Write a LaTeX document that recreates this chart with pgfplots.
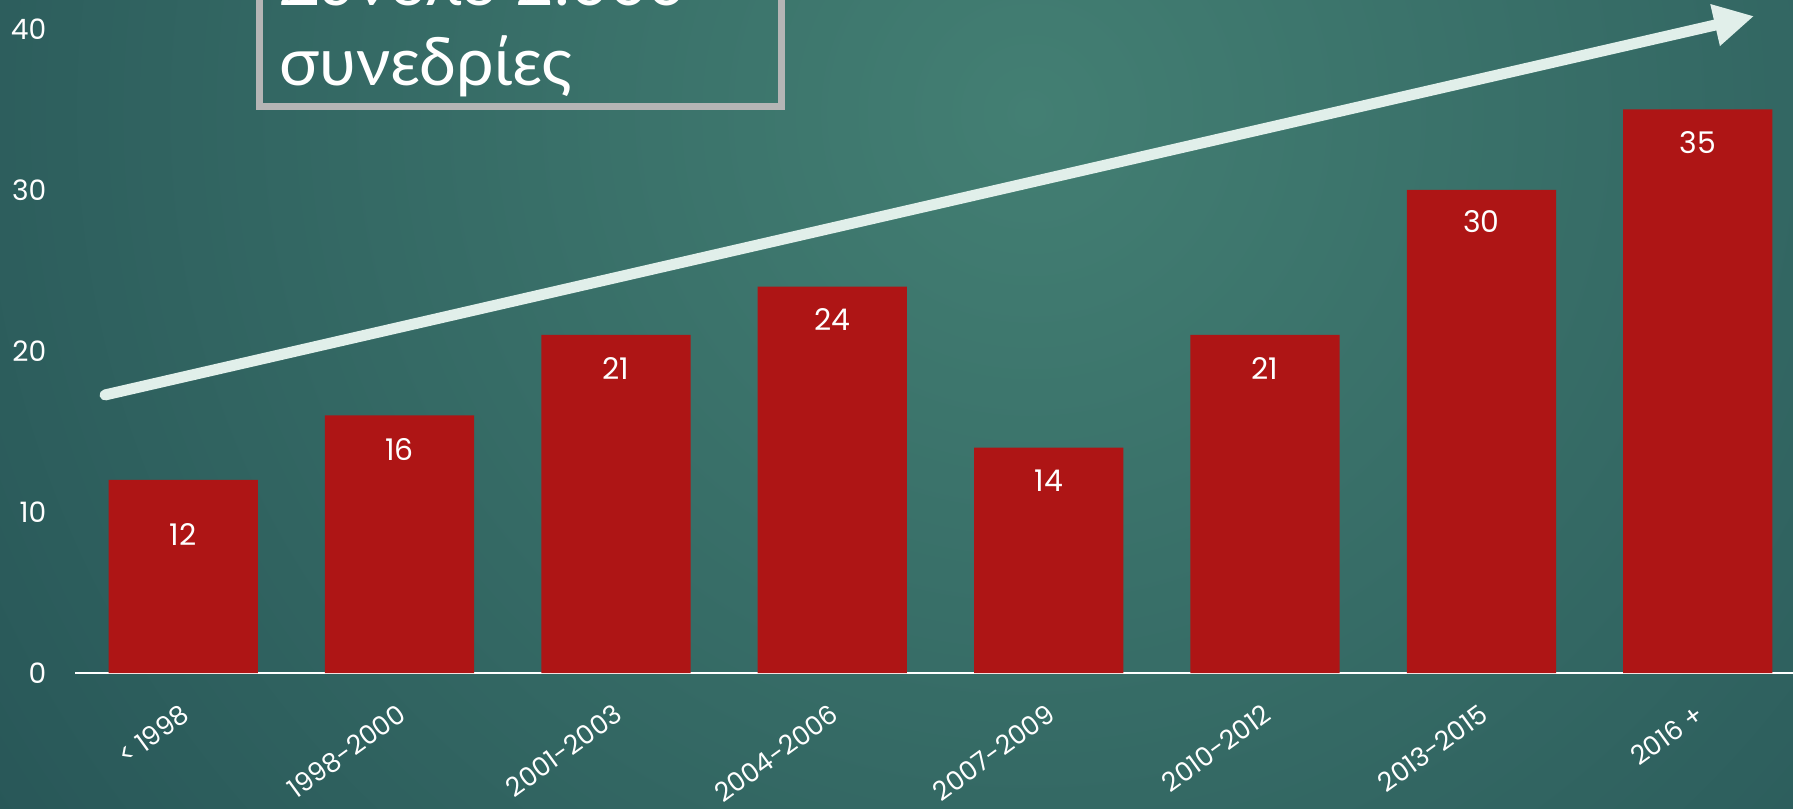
\documentclass[border=0pt]{standalone}
\usepackage{pgfplots}
\pgfplotsset{compat=1.18}
\usepackage{pgfplotstable}
\usepackage{fontspec}
\setmainfont{Poppins}
\newfontfamily\greekfont{Lato}
\usetikzlibrary{arrows.meta}

\definecolor{bgdark}{HTML}{183F48}
\definecolor{bglight}{HTML}{437F73}
\definecolor{barred}{HTML}{AE1515}
\definecolor{arrowcol}{HTML}{E1EFEA}
\definecolor{boxgray}{HTML}{B5B5B5}

% sessions per period, label offset (cm) below bar top
\pgfplotstableread{
x y off
0 12 -1.10
1 16 -0.68
2 21 -0.68
3 24 -0.66
4 14 -0.66
5 21 -0.68
6 30 -0.63
7 35 -0.66
}\sessions

\begin{document}
\begin{tikzpicture}
\useasboundingbox (-1.5,-2.7) rectangle (34.36,13.46);
\clip (-1.5,-2.7) rectangle (34.36,13.46);
\fill[bgdark] (-1.5,-2.7) rectangle (34.36,13.46);
\shade[inner color=bglight, outer color=bgdark] (19.1,11.2) circle (40cm);

\begin{axis}[
  at={(0,0)}, anchor=south west,
  scale only axis, width=34.36cm, height=13.46cm,
  xmin=-0.5, xmax=7.44, ymin=0, ymax=41.8,
  ybar, bar width=0.69,
  axis x line*=bottom, axis y line*=left,
  x axis line style={white, line width=0.05cm},
  y axis line style={draw=none},
  major tick length=0,
  ytick={0,10,20,30,40},
  xtick={0,...,7},
  xticklabels={{< 1998},{1998-2000},{2001-2003},{2004-2006},{2007-2009},{2010-2012},{2013-2015},{2016 +}},
  ticklabel style={white},
  xticklabel style={rotate=36, anchor=north east, inner sep=0pt, yshift=-0.44cm, xshift=-0.4cm,
    font=\fontsize{15}{17}\selectfont},
  yticklabel style={anchor=east, xshift=-0.45cm, font=\fontsize{16}{18}\selectfont},
  /pgf/number format/assume math mode=true,
  nodes near coords,
  visualization depends on={\thisrow{off} \as \laboff},
  every node near coord/.append style={white, anchor=center, yshift=\laboff cm, font=\fontsize{17}{19}\selectfont},
  clip=false,
]
\addplot[fill=barred, draw=none] table[x=x, y=y] {\sessions};

\draw[arrowcol, line width=0.22cm, line cap=round, -{Triangle[length=0.8cm, width=0.8cm]}]
  (axis cs:-0.361,17.27) -- (axis cs:7.26,40.8);
\draw[boxgray, line width=0.14cm] (axis cs:0.354,35.18) rectangle (axis cs:2.766,46);
\node[anchor=base west, inner sep=0pt, white, font=\greekfont\fontsize{38}{40}\selectfont]
  at (axis cs:0.444,41.45) {Σύνολο 2.000};
\node[anchor=base west, inner sep=0pt, white, font=\greekfont\fontsize{38}{40}\selectfont]
  at (axis cs:0.444,36.46) {συνεδρίες};
\end{axis}
\end{tikzpicture}
\end{document}
